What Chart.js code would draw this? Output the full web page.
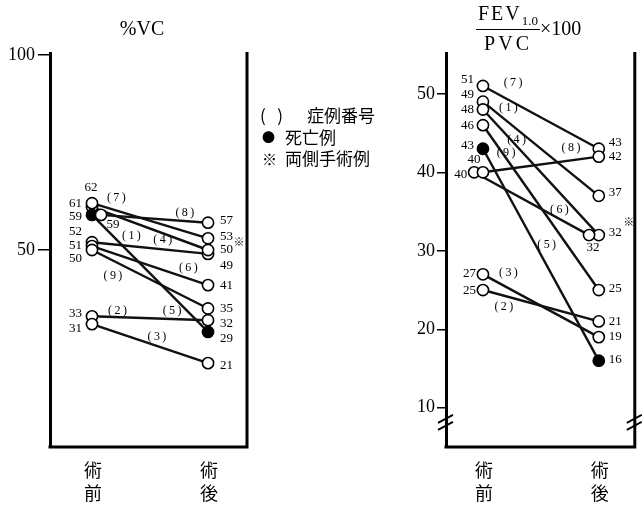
<!DOCTYPE html>
<html>
<head>
<meta charset="utf-8">
<script src="https://cdn.jsdelivr.net/npm/chart.js"></script>
<style>
  body{margin:0;background:#fff;}
  #wrap{position:relative;width:642px;height:505px;overflow:hidden;background:#fff;}
  canvas{position:absolute;top:0;}
  .t{position:absolute;color:#000;white-space:nowrap;font-family:"Liberation Serif",serif;line-height:1;}
  .jp{font-family:"Noto Sans CJK JP",sans-serif;}
  .frac{display:inline-block;text-align:center;vertical-align:middle;}
  .frac .num{display:block;border-bottom:1.5px solid #000;padding:0 2px 2px;letter-spacing:2px;}
  .frac .den{display:block;padding-top:3px;letter-spacing:3px;}
</style>
</head>
<body>
<div id="wrap">
  <canvas id="vc" width="400" height="505" style="left:0"></canvas>
  <canvas id="fev" width="242" height="505" style="left:400px"></canvas>

  <div class="t" style="left:142px;top:18px;font-size:20px;transform:translateX(-50%);">%VC</div>

  <div class="t" style="left:476px;top:3px;font-size:20px;">
    <span class="frac"><span class="num">FEV<sub style="font-size:13px;letter-spacing:0;">1.0</sub></span><span class="den">PVC</span></span><span style="vertical-align:middle;">×100</span>
  </div>

  <div class="t jp" style="left:260px;top:106px;font-size:17px;"><span style="display:inline-block;width:47px;">(&nbsp;&nbsp;&nbsp;)</span>症例番号</div>
  <div class="t jp" style="left:262px;top:128px;font-size:17px;"><span style="display:inline-block;width:23px;font-size:13px;vertical-align:2px;">●</span>死亡例</div>
  <div class="t jp" style="left:262px;top:149px;font-size:17px;"><span style="display:inline-block;width:23px;font-size:15px;">※</span>両側手術例</div>
</div>

<script>
// case numbers (1)..(9)
const cases = ['(1)', '(2)', '(3)', '(4)', '(5)', '(6)', '(7)', '(8)', '(9)'];
const died = [false, false, false, false, true, false, false, false, false];
const bilateral = [false, false, false, true, false, false, false, false, false];
const phases = [['術', '前'], ['術', '後']];

// %VC
const vcPre  = [52, 33, 31, 61, 59, 51, 62, 59, 50];
const vcPost = [49, 32, 21, 50, 29, 41, 53, 57, 35];
const vcTicks = [50, 100];

// FEV1.0 / PVC x 100
const fevPre  = [49, 25, 27, 48, 43, 40, 51, 40, 46];
const fevPost = [37, 21, 19, 32, 16, 32, 43, 42, 25];
const fevTicks = [10, 20, 30, 40, 50];

// small sideways shifts where two circles would overlap
const vcPreShift   = [0, 0, 0, 0, 0, 0, 0, 0.078, 0];
const vcPostShift  = [0, 0, 0, 0, 0, 0, 0, 0, 0];
const fevPreShift  = [0, 0, 0, 0, 0, -0.076, 0, 0, 0];
const fevPostShift = [0, 0, 0, 0, 0, -0.084, 0, 0, 0];

// value label placement [dx, dy, align]
const vcPreLab = [[-10,-11,'right'],[-10,-3,'right'],[-10,4,'right'],[-10,-4,'right'],[-10,2,'right'],
                  [-10,-1,'right'],[-1,-16,'center'],[12,10,'center'],[-10,9,'right']];
const vcPostLab = [[12,12],[12,3],[12,2],[12,0],[12,7],[12,0],[12,-2],[12,-2],[12,0]];
const fevPreLab = [[-9,-7,'right'],[-7,1,'right'],[-7,-1,'right'],[-9,0,'right'],[-9,-3,'right'],
                   [-7,2,'right'],[-9,-6,'right'],[-9,-13,'center'],[-9,0,'right']];
const fevPostLab = [[10,-3],[10,0],[10,-1],[10,-3],[10,-1],[4,12,'center'],[10,-6],[10,0],[10,-1]];

// case number label positions, in data units
const vcCasePos  = [[0.34,53.6],[0.22,34.4],[0.56,27.7],[0.61,52.6],[0.69,34.4],[0.83,45.4],[0.21,63.3],[0.80,59.5],[0.18,43.3]];
const fevCasePos = [[0.22,48.2],[0.18,22.9],[0.22,27.2],[0.29,44.1],[0.55,30.8],[0.66,35.2],[0.26,51.4],[0.76,43.1],[0.20,42.5]];

const SERIF = '"Liberation Serif", serif';
const JP = '"Noto Sans CJK JP", sans-serif';

function buildChart(id, o) {
  const pts = [], fills = [];
  cases.forEach((c, i) => {
    pts.push({x: o.preShift[i], y: o.pre[i]});
    fills.push(died[i] ? '#000' : '#fff');
    pts.push({x: 1 + o.postShift[i], y: o.post[i]});
    fills.push(died[i] ? '#000' : '#fff');
  });
  const datasets = [{
    data: pts, showLine: false, pointRadius: 5.6, pointBorderWidth: 1.6,
    pointBorderColor: '#000', pointBackgroundColor: fills
  }];
  cases.forEach((c, i) => {
    datasets.push({
      data: [{x: o.preShift[i], y: o.pre[i]}, {x: 1 + o.postShift[i], y: o.post[i]}],
      showLine: true, borderColor: '#111', borderWidth: 2.4, pointRadius: 0
    });
  });

  const deco = {
    id: 'deco',
    afterDraw(chart) {
      const ctx = chart.ctx, a = chart.chartArea;
      const xs = chart.scales.x, ys = chart.scales.y;
      ctx.save();
      // right and bottom frame
      ctx.strokeStyle = '#000';
      ctx.lineWidth = 3;
      ctx.beginPath();
      ctx.moveTo(a.right, a.top - 1);
      ctx.lineTo(a.right, a.bottom);
      ctx.moveTo(a.left - 1.5, a.bottom);
      ctx.lineTo(a.right + 1.5, a.bottom);
      ctx.stroke();
      // axis break marks
      if (o.breakAt != null) {
        const yb = ys.getPixelForValue(o.breakAt);
        ctx.lineWidth = 1.8;
        [a.left, a.right].forEach(xb => {
          ctx.beginPath();
          ctx.moveTo(xb - 8, yb + 1); ctx.lineTo(xb + 7, yb - 7);
          ctx.moveTo(xb - 8, yb + 8); ctx.lineTo(xb + 7, yb);
          ctx.stroke();
        });
      }
      // value labels
      ctx.fillStyle = '#000';
      ctx.textBaseline = 'middle';
      ctx.font = '13px ' + SERIF;
      cases.forEach((c, i) => {
        const px0 = xs.getPixelForValue(o.preShift[i]), py0 = ys.getPixelForValue(o.pre[i]);
        const l0 = o.preLab[i];
        ctx.textAlign = l0[2] || 'left';
        ctx.fillText(String(o.pre[i]), px0 + l0[0], py0 + l0[1]);
        const px1 = xs.getPixelForValue(1 + o.postShift[i]), py1 = ys.getPixelForValue(o.post[i]);
        const l1 = o.postLab[i];
        ctx.textAlign = l1[2] || 'left';
        ctx.fillText(String(o.post[i]), px1 + l1[0], py1 + l1[1]);
        if (bilateral[i]) {
          ctx.save();
          ctx.font = '11px ' + JP;
          ctx.textAlign = 'center';
          ctx.fillText('※', px1 + o.markDx, py1 + o.markDy);
          ctx.restore();
        }
      });
      // case numbers
      ctx.font = '12px ' + SERIF;
      ctx.textAlign = 'center';
      cases.forEach((c, i) => {
        const p = o.casePos[i];
        ctx.fillText(c.replace('(', '(\u2009').replace(')', '\u2009)'), xs.getPixelForValue(p[0]), ys.getPixelForValue(p[1]));
      });
      // phase labels under the frame
      ctx.font = '18px ' + JP;
      phases.forEach((ph, k) => {
        const px = xs.getPixelForValue(k);
        ctx.fillText(ph[0], px + 1, a.bottom + 23);
        ctx.fillText(ph[1], px + 1, a.bottom + 46);
      });
      ctx.restore();
    }
  };

  return new Chart(document.getElementById(id), {
    type: 'scatter',
    data: {datasets},
    options: {
      responsive: false,
      animation: false,
      events: [],
      layout: {padding: o.padding},
      plugins: {legend: {display: false}, tooltip: {enabled: false}},
      scales: {
        x: {type: 'linear', min: o.xMin, max: o.xMax, display: false},
        y: {
          min: o.yMin, max: o.yMax,
          afterBuildTicks: s => { s.ticks = o.ticks.map(v => ({value: v})); },
          afterFit: s => { s.width = o.axisWidth; },
          grid: {drawOnChartArea: false, color: '#000', lineWidth: 1.5, tickLength: o.tickLen},
          border: {color: '#000', width: 3},
          ticks: {color: '#000', font: {family: SERIF, size: 18}, padding: o.tickPad, autoSkip: false}
        }
      }
    },
    plugins: [deco]
  });
}

buildChart('vc', {
  pre: vcPre, post: vcPost, preShift: vcPreShift, postShift: vcPostShift,
  preLab: vcPreLab, postLab: vcPostLab, casePos: vcCasePos, ticks: vcTicks,
  yMin: -0.5, yMax: 100.5, xMin: -0.362, xMax: 1.336,
  padding: {top: 53, bottom: 58, left: 0, right: 153},
  axisWidth: 50, tickLen: 12, tickPad: 3, markDx: 31, markDy: -8, breakAt: null
});

buildChart('fev', {
  pre: fevPre, post: fevPost, preShift: fevPreShift, postShift: fevPostShift,
  preLab: fevPreLab, postLab: fevPostLab, casePos: fevCasePos, ticks: fevTicks,
  yMin: 5.0, yMax: 55.2, xMin: -0.319, xMax: 1.311,
  padding: {top: 53, bottom: 58, left: 0, right: 2},
  axisWidth: 46, tickLen: 9, tickPad: 2, markDx: 30, markDy: -13, breakAt: 8.2
});
</script>
</body>
</html>
